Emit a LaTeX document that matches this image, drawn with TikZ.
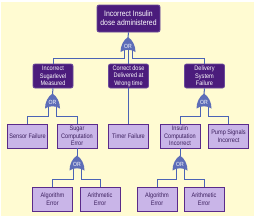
\documentclass[tikz,border=0pt]{standalone}
\usepackage{fontspec}
\setmainfont{Liberation Sans}[FakeStretch=0.86]
\usetikzlibrary{calc}
\definecolor{bgc}{HTML}{FFFBD2}
\definecolor{darkp}{HTML}{4B1C7C}
\definecolor{darkb}{HTML}{6A4A9A}
\definecolor{lightp}{HTML}{C9B5E8}
\definecolor{lightb}{HTML}{5A2A8A}
\definecolor{txtc}{HTML}{3A1E5C}
\definecolor{wirec}{HTML}{4B63B5}
\definecolor{gatec}{HTML}{5D6DB8}
\tikzset{
  darkbox/.style={draw=darkb, fill=darkp, rounded corners=2pt, text=white, align=center,
    font=\fontsize{6.5}{7.6}\selectfont, minimum width=40pt, minimum height=24pt, inner sep=0pt, line width=0.8pt},
  topbox/.style={darkbox, font=\fontsize{8}{9}\selectfont, minimum width=63pt, minimum height=27pt},
  lightbox/.style={draw=lightb, fill=lightp, text=txtc, align=center,
    font=\fontsize{6.5}{7.6}\selectfont, minimum width=40pt, minimum height=24pt, inner sep=0pt, line width=0.9pt},
  wire/.style={draw=wirec, line width=1pt},
  orgate/.pic={
    \fill[gatec] (-7.5,7.5) .. controls (-3,4.5) and (3,4.5) .. (7.5,7.5)
      .. controls (7.5,1) and (4.5,-4.5) .. (0,-7.5)
      .. controls (-4.5,-4.5) and (-7.5,1) .. (-7.5,7.5) -- cycle;
    \node[font=\fontsize{6}{6}\selectfont, text=white, inner sep=0pt] at (0,1.8) {OR};
  }
}
\begin{document}
\begin{tikzpicture}[x=1pt,y=-1pt]
\useasboundingbox[fill=white] (0,0) rectangle (256,218);
\fill[bgc] (1,2) rectangle (254,216);

% nodes
\node[topbox] (top) at (128.5,18.5) {Incorrect Insulin\\dose administered};
\node[darkbox] (n1) at (53,76) {Incorrect\\Sugarlevel\\Measured};
\node[darkbox] (n2) at (128.5,76) {Correct dose\\Delivered at\\Wrong time};
\node[darkbox] (n3) at (204.5,76) {Delivery\\System\\Failure};
\node[lightbox] (s1) at (27.5,136) {Sensor Failure};
\node[lightbox] (s2) at (77,136) {Sugar\\Computation\\Error};
\node[lightbox] (s3) at (128.5,136) {Timer Failure};
\node[lightbox] (s4) at (180,136) {Insulin\\Computation\\Incorrect};
\node[lightbox] (s5) at (228.5,136) {Pump Signals\\Incorrect};
\node[lightbox] (a1) at (52.5,199) {Algorithm\\Error};
\node[lightbox] (a2) at (100,199) {Arithmetic\\Error};
\node[lightbox] (a3) at (157,199) {Algorithm\\Error};
\node[lightbox] (a4) at (204,199) {Arithmetic\\Error};

% gate positions and bus levels
\coordinate (g0) at (128,44.5);
\coordinate (g1) at (52.5,101);
\coordinate (g2) at (204,101);
\coordinate (g3) at (77,163);
\coordinate (g4) at (180,163);
\coordinate (b0) at (0,58);
\coordinate (b1) at (0,116);
\coordinate (b2) at (0,179);

% connectors
\draw[wire] (top.south) -- ($(g0)+(0,-7)$);
\draw[wire] ($(g0)+(-4,5)$) |- (n1.north |- b0) -- (n1.north);
\draw[wire] ($(g0)+(0,5)$) -- (g0 |- n2.north);
\draw[wire] ($(g0)+(4,5)$) |- (n3.north |- b0) -- (n3.north);

\draw[wire] (n1.south) -- ($(g1)+(0,-7)$);
\draw[wire] ($(g1)+(-4,5)$) |- (s1.north |- b1) -- (s1.north);
\draw[wire] ($(g1)+(4,5)$) |- (s2.north |- b1) -- (s2.north);

\draw[wire] (n2.south) -- (s3.north);

\draw[wire] (n3.south) -- ($(g2)+(0,-7)$);
\draw[wire] ($(g2)+(-4,5)$) |- (s4.north |- b1) -- (s4.north);
\draw[wire] ($(g2)+(4,5)$) |- (s5.north |- b1) -- (s5.north);

\draw[wire] (s2.south) -- ($(g3)+(0,-7)$);
\draw[wire] ($(g3)+(-4,5)$) |- (a1.north |- b2) -- (a1.north);
\draw[wire] ($(g3)+(4,5)$) |- (a2.north |- b2) -- (a2.north);

\draw[wire] (s4.south) -- ($(g4)+(0,-7)$);
\draw[wire] ($(g4)+(-4,5)$) |- (a3.north |- b2) -- (a3.north);
\draw[wire] ($(g4)+(4,5)$) |- (a4.north |- b2) -- (a4.north);

% gates
\pic at (g0) {orgate};
\pic at (g1) {orgate};
\pic at (g2) {orgate};
\pic at (g3) {orgate};
\pic at (g4) {orgate};
\end{tikzpicture}
\end{document}
